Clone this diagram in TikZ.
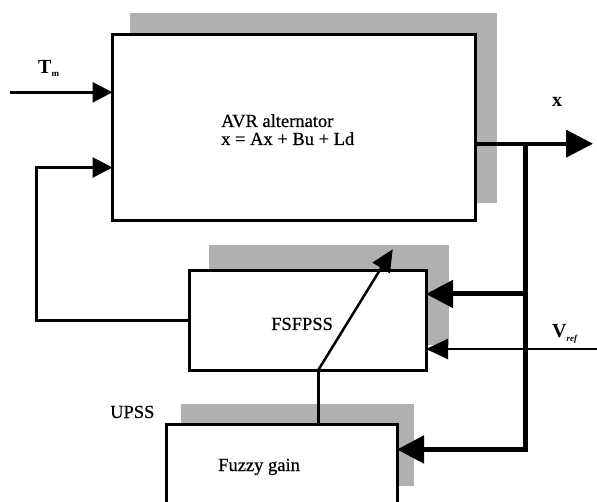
\documentclass[tikz,border=0pt]{standalone}
\usepackage{fontspec}
\setmainfont{Liberation Serif}
\newfontfamily\bodyfont[FakeBold=0.6]{Liberation Serif}
\usetikzlibrary{arrows.meta}
\definecolor{shade}{RGB}{176,176,176}
\begin{document}
\begin{tikzpicture}[x=1pt,y=-1pt,
  blk/.style={draw, line width=3pt, fill=white, anchor=north west, inner sep=0pt, outer sep=0pt},
  shd/.style={fill=shade, draw=none},
  txt/.style={font=\bodyfont\fontsize{18.5}{18}\selectfont, inner sep=0pt, anchor=base west},
  lbl/.style={font=\fontsize{20}{20}\selectfont\bfseries, inner sep=0pt, anchor=base west},
  thinline/.style={line width=3pt},
  busline/.style={line width=5pt},
  bigtip/.style={-{Triangle[length=27pt,width=27pt]}},
  smalltip/.style={-{Triangle[length=20pt,width=20pt]}},
  midtip/.style={-{Triangle[length=22pt,width=20pt]}},
]
\useasboundingbox (0,0) rectangle (597,502);
% shadows
\fill[shd] (130,13) rectangle (497,203);
\fill[shd] (209,245) rectangle (449,345);
\fill[shd] (181,404) rectangle (414,486);
% blocks
\node[blk, minimum width=363pt, minimum height=186pt] (avr) at (112.5,35) {};
\node[blk, minimum width=236.5pt, minimum height=100pt] (fsf) at (189.5,270.5) {};
\node[blk, minimum width=231pt, minimum height=90pt] (fuz) at (166,424) {};
% texts
\node[txt] (avrt1) at (221,127) {AVR alternator};
\node[txt] (avrt2) at (221,145) {x = Ax + Bu + Ld};
\node[txt] (fsft) at (271,330) {FSFPSS};
\node[txt] (fuzt) at (218,471) {Fuzzy gain};
\node[txt] (upss) at (110,418) {UPSS};
\node[lbl] (xl) at (552,107) {x};
\node[lbl] (tml) at (38,74) {T\raisebox{-3pt}{\fontsize{9}{9}\selectfont m}};
\node[lbl] (vrl) at (552,338) {V\raisebox{-4pt}{\fontsize{9}{9}\selectfont\itshape ref}};
% coordinates
\coordinate (tmin) at (10,92.3);
\coordinate (fb) at (36.5,167.5);
\coordinate (out) at (593,143.7);
\coordinate (bt) at (525.5,143.7);
\coordinate (bm) at (525.5,294);
\coordinate (bb) at (525.5,449.5);
\coordinate (vr) at (597,349);
\coordinate (vx) at (318,424);
\coordinate (dtip) at (392.7,249.3);
% connectors
\draw[thinline, smalltip] (tmin) -- (tmin -| avr.west);
\draw[thinline, smalltip] (fsf.west) -| (fb) -- (fb -| avr.west);
\draw[line width=4pt, bigtip] (avr.east |- out) -- (out);
\draw[busline, bigtip] (bt) -- (bb) -- (bb -| fuz.east);
\draw[busline, bigtip] (bm) -- (bm -| fsf.east);
\draw[line width=2.5pt, midtip] (vr) -- (vr -| fsf.east);
\draw[thinline] (vx |- fuz.north) -- (vx |- fsf.south);
\draw[line width=2.5pt, midtip] (vx |- fsf.south) -- (dtip);
\end{tikzpicture}
\end{document}
